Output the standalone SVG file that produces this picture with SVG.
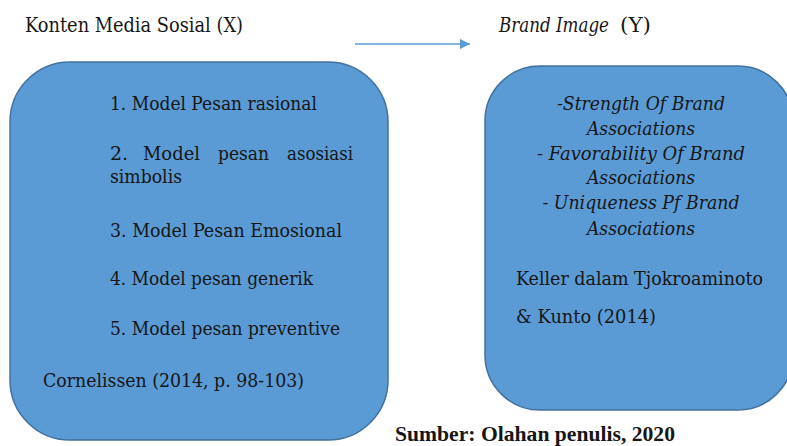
<svg xmlns="http://www.w3.org/2000/svg" width="787" height="446" viewBox="0 0 787 446">
<style>
.box{fill:#5B9BD5;stroke:#41719C;stroke-width:1.5}
</style>
<defs>
<marker id="ah" viewBox="0 0 10 10" refX="10" refY="5" markerWidth="10" markerHeight="10" markerUnits="userSpaceOnUse" orient="auto">
<path d="M0,0 L10,5 L0,10 z" fill="#5B9BD5"/>
</marker>
</defs>
<rect width="787" height="446" fill="#fff"/>
<g font-family="'DejaVu Serif', 'Liberation Serif', serif" fill="#161616" font-size="19">
<g id="title-x"><text x="25" y="32" font-size="19.5" textLength="218" lengthAdjust="spacingAndGlyphs">Konten Media Sosial (X)</text></g>
<g id="title-y">
<text font-size="19.5" x="499" y="32" font-style="italic" textLength="110" lengthAdjust="spacingAndGlyphs">Brand Image</text>
<text font-size="19.5" x="620" y="32" textLength="31" lengthAdjust="spacingAndGlyphs">(Y)</text>
</g>
<g id="connectors">
<line x1="355" y1="44" x2="470" y2="44" stroke="#5B9BD5" stroke-width="1.5" marker-end="url(#ah)"/>
</g>
<g id="node-x">
<rect class="box" x="10" y="62" width="378" height="378" rx="60" ry="60"/>
<text x="110" y="110" textLength="207" lengthAdjust="spacingAndGlyphs">1. Model Pesan rasional</text>
<text x="110" y="160">2.</text>
<text x="143" y="160" textLength="57" lengthAdjust="spacingAndGlyphs">Model</text>
<text x="218" y="160" textLength="51" lengthAdjust="spacingAndGlyphs">pesan</text>
<text x="287" y="160" textLength="66" lengthAdjust="spacingAndGlyphs">asosiasi</text>
<text x="110" y="183" textLength="72" lengthAdjust="spacingAndGlyphs">simbolis</text>
<text x="110" y="237" textLength="232" lengthAdjust="spacingAndGlyphs">3. Model Pesan Emosional</text>
<text x="110" y="285" textLength="203" lengthAdjust="spacingAndGlyphs">4. Model pesan generik</text>
<text x="110" y="335" textLength="230" lengthAdjust="spacingAndGlyphs">5. Model pesan preventive</text>
<text x="43" y="387" textLength="261" lengthAdjust="spacingAndGlyphs">Cornelissen (2014, p. 98-103)</text>
</g>
<g id="node-y">
<rect class="box" x="485" y="66" width="308" height="344" rx="55" ry="55"/>
<g font-style="italic" text-anchor="middle">
<text x="641" y="110" textLength="168" lengthAdjust="spacingAndGlyphs">-Strength Of Brand</text>
<text x="641" y="135" textLength="108" lengthAdjust="spacingAndGlyphs">Associations</text>
<text x="641" y="160" textLength="208" lengthAdjust="spacingAndGlyphs">- Favorability Of Brand</text>
<text x="641" y="184" textLength="108" lengthAdjust="spacingAndGlyphs">Associations</text>
<text x="641" y="209" textLength="197" lengthAdjust="spacingAndGlyphs">- Uniqueness Pf Brand</text>
<text x="641" y="235" textLength="108" lengthAdjust="spacingAndGlyphs">Associations</text>
</g>
<text x="516" y="285" textLength="247" lengthAdjust="spacingAndGlyphs">Keller dalam Tjokroaminoto</text>
<text x="516" y="323" textLength="140" lengthAdjust="spacingAndGlyphs">&amp; Kunto (2014)</text>
</g>
<g id="source"><text x="395" y="441" font-family="'Liberation Serif', serif" font-size="20" font-weight="bold" textLength="280" lengthAdjust="spacingAndGlyphs">Sumber: Olahan penulis, 2020</text></g>
</g>
</svg>
